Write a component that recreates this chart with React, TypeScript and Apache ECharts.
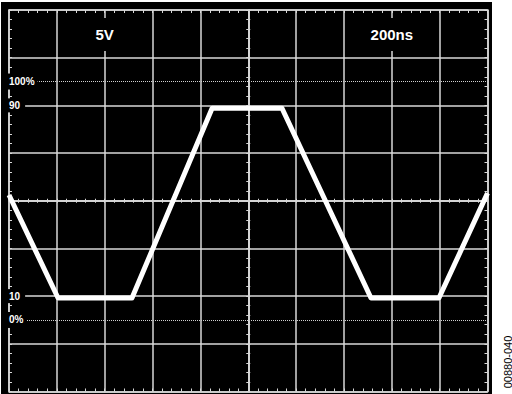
import React, { useEffect, useRef } from "react";
import * as echarts from "echarts";

// Trace: time (ns) vs. voltage (V); 200 ns/div, 5 V/div
const timeNs = [0, 205, 514, 849, 1141, 1513, 1797, 2000];
const volts = [0.6, -10.2, -10.2, 9.7, 9.7, -10.2, -10.2, 0.8];

// Reference levels (V)
const dottedLevels = [12.5, -12.5]; // 100% and 0%
const levelLabels = ["100%", "90", "10", "0%"];
const levelValues = [12.5, 10, -10, -12.5];

// Scale annotations and their positions on the time axis (ns)
const scaleLabels = ["5V", "200ns"];
const scaleLabelTimes = [400, 1600];
const figureId = "00880-040";

const GRID_COLOR = "#d8d8d8";
const GRID_LEFT = 9;
const GRID_TOP = 10;
const GRID_W = 478.5;
const GRID_H = 381.5;

function makeAxis(dim: "x" | "y", extra: any) {
  const isX = dim === "x";
  return {
    type: "value",
    min: isX ? 0 : -20,
    max: isX ? 2000 : 20,
    interval: isX ? 200 : 5,
    axisLabel: { show: false },
    splitLine: { show: false },
    axisLine: { show: true, onZero: false, lineStyle: { color: GRID_COLOR, width: 1.5 } },
    ...extra,
  };
}

function ticks(inside: boolean, len: number) {
  return {
    axisTick: { show: true, inside, length: len, lineStyle: { color: GRID_COLOR, width: 1 } },
    minorTick: { show: true, splitNumber: 5, length: len, lineStyle: { color: GRID_COLOR, width: 1 } },
  };
}

export default function App() {
  const ref = useRef<HTMLDivElement>(null);
  useEffect(() => {
    const el = ref.current!;
    const chart = echarts.init(el, null, { renderer: "svg" });
    const split = { show: true, lineStyle: { color: GRID_COLOR, width: 1.5 } };
    const bgRect = {
      type: "rect",
      z: -100,
      shape: { x: 1, y: 2, width: 491, height: 392 },
      style: { fill: "#000" },
      silent: true,
    };
    const option: any = {
      animation: false,
      grid: {
        left: GRID_LEFT,
        top: GRID_TOP,
        width: GRID_W,
        height: GRID_H,
        containLabel: false,
        outerBoundsMode: "none",
      },
      xAxis: [
        makeAxis("x", { position: "bottom", splitLine: split, ...ticks(true, 3) }),
        makeAxis("x", { position: "top", ...ticks(true, 3) }),
        makeAxis("x", { position: "bottom", offset: -GRID_H / 2, ...ticks(false, 2) }),
        makeAxis("x", { position: "bottom", offset: -GRID_H / 2, ...ticks(true, 2) }),
      ],
      yAxis: [
        makeAxis("y", { position: "left", splitLine: split, ...ticks(true, 3) }),
        makeAxis("y", { position: "right", ...ticks(true, 3) }),
        makeAxis("y", { position: "left", offset: -GRID_W / 2, ...ticks(false, 2) }),
        makeAxis("y", { position: "left", offset: -GRID_W / 2, ...ticks(true, 2) }),
      ],
      graphic: [bgRect],
      series: [
        {
          type: "line",
          xAxisIndex: 0,
          yAxisIndex: 0,
          data: timeNs.map((t, i) => [t, volts[i]]),
          symbol: "none",
          showSymbol: false,
          silent: true,
          z: 5,
          lineStyle: { color: "#ffffff", width: 5, join: "round", cap: "butt" },
          markLine: {
            silent: true,
            symbol: "none",
            label: { show: false },
            lineStyle: { color: "#d0d0d0", width: 1, type: [1, 1] },
            data: dottedLevels.map((v) => ({ yAxis: v })),
          },
        },
      ],
    };
    chart.setOption(option);

    const px = (t: number, v: number) =>
      chart.convertToPixel({ seriesIndex: 0 }, [t, v]) as number[];

    const graphic: any[] = [bgRect];
    levelLabels.forEach((txt, i) => {
      const p = px(0, levelValues[i]);
      const isPct = txt.indexOf("%") >= 0;
      graphic.push({
        type: "text",
        z: 100,
        x: p[0] - 3,
        y: p[1],
        silent: true,
        style: {
          text: txt,
          fill: "#ffffff",
          font: 'bold 10px "Liberation Sans", Arial, sans-serif',
          align: "left",
          verticalAlign: "middle",
          lineHeight: 12,
          backgroundColor: "#000",
          padding: isPct ? [2, 3, 2, 3] : [1, 5, 1, 3],
        },
      });
    });
    scaleLabels.forEach((txt, i) => {
      const p = px(scaleLabelTimes[i], 0);
      graphic.push({
        type: "text",
        z: 100,
        x: p[0],
        y: 34.5,
        silent: true,
        style: {
          text: txt,
          fill: "#ffffff",
          font: 'bold 15px "Liberation Sans", Arial, sans-serif',
          align: "center",
          verticalAlign: "middle",
          lineHeight: 15,
          backgroundColor: "#000",
          padding: [9, 6, 9, 6],
        },
      });
    });
    graphic.push({
      type: "text",
      z: 100,
      x: 507.5,
      y: 362,
      rotation: Math.PI / 2,
      silent: true,
      style: {
        text: figureId,
        fill: "#000",
        font: '11px "Liberation Sans", Arial, sans-serif',
        align: "center",
        verticalAlign: "middle",
      },
    });
    chart.setOption({ graphic });

    return () => chart.dispose();
  }, []);
  return (
    <div
      ref={ref}
      style={{ position: "absolute", left: 0, top: 0, width: 512, height: 394, background: "#fff" }}
    />
  );
}
